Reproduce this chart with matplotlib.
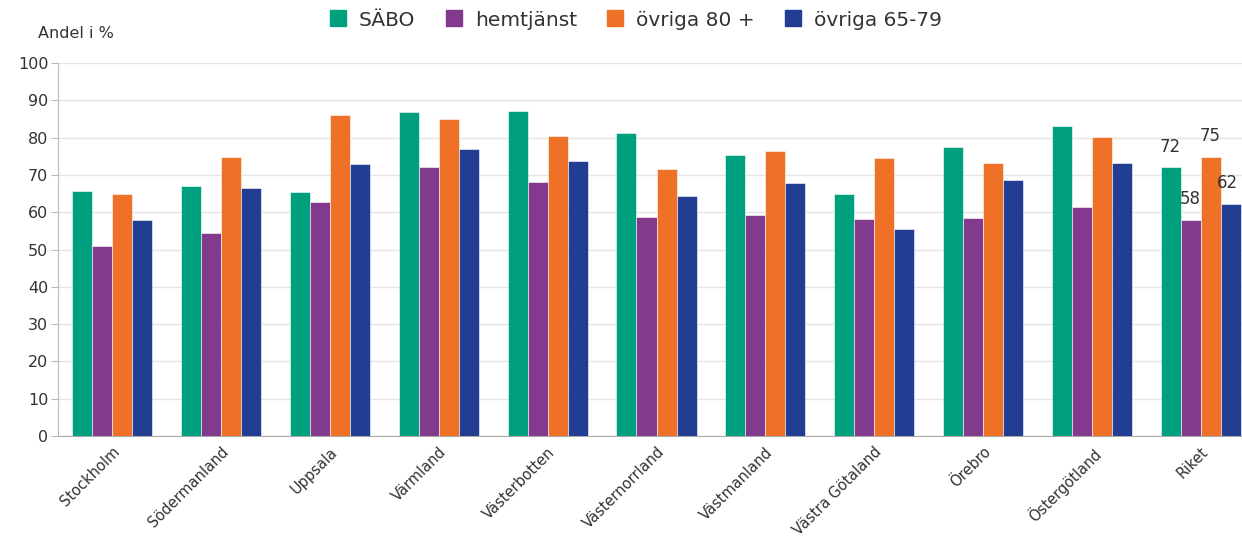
import matplotlib
matplotlib.use('Agg')
import matplotlib.pyplot as plt
from matplotlib.lines import Line2D
import numpy as np

# data
regions = ['Stockholm', 'Södermanland', 'Uppsala', 'Värmland', 'Västerbotten',
           'Västernorrland', 'Västmanland', 'Västra Götaland', 'Örebro',
           'Östergötland', 'Riket']
sabo = [65.7, 67.0, 65.3, 86.8, 87.2, 81.2, 75.3, 65.0, 77.5, 83.2, 72.0]
hemtjanst = [51.0, 54.5, 62.7, 72.0, 68.2, 58.7, 59.2, 58.2, 58.4, 61.3, 58.0]
ovriga80 = [64.9, 74.7, 86.0, 85.0, 80.3, 71.6, 76.3, 74.4, 73.3, 80.1, 74.7]
ovriga65 = [57.9, 66.6, 73.0, 77.0, 73.8, 64.4, 67.8, 55.4, 68.6, 73.3, 62.3]
series_names = ['SÄBO', 'hemtjänst', 'övriga 80 +', 'övriga 65-79']
riket_labels = ['72', '58', '75', '62']
yticks = list(range(0, 101, 10))

colors = ['#00A07F', '#823A8C', '#EE7127', '#213E92']

plt.rcParams['font.family'] = ['DejaVu Sans']

W, H = 1242, 554
fig = plt.figure(figsize=(W / 100, H / 100), dpi=100)
left, right = 58, 58 + 1197
top, bottom = 63, 436
ax = fig.add_axes([left / W, 1 - bottom / H, (right - left) / W, (bottom - top) / H])

x = np.arange(len(regions))
bw = 0.184
all_series = [sabo, hemtjanst, ovriga80, ovriga65]
for i, (vals, col) in enumerate(zip(all_series, colors)):
    ax.bar(x + (i - 1.5) * bw, vals, width=bw, color=col,
           edgecolor='white', linewidth=0.4, zorder=3)

# value labels on Riket
last = len(regions) - 1
for i, (vals, lab) in enumerate(zip(all_series, riket_labels)):
    dx = -0.03 if i == 3 else 0
    ax.text(last + (i - 1.5) * bw + dx, vals[last] + 3.2, lab, ha='center',
            va='bottom', fontsize=12, color='#333333', zorder=4)

ax.set_xlim(-0.5, len(regions) - 0.5)
ax.set_ylim(0, 100)
ax.set_yticks(yticks)
ax.tick_params(axis='y', labelsize=11.5, colors='#333333', length=5,
               color='#BBBBBB', pad=2)
ax.tick_params(axis='x', length=0, pad=6)
ax.set_xticks(x)
ax.set_xticklabels(regions, rotation=45, ha='right', rotation_mode='anchor',
                   fontsize=10.5, color='#333333')
ax.grid(axis='y', color='#E4E4E4', linewidth=1, zorder=0)
for side in ['top', 'right']:
    ax.spines[side].set_visible(False)
ax.spines['left'].set_color('#BBBBBB')
ax.spines['bottom'].set_color('#AAAAAA')

fig.text(38 / W, 1 - 33 / H, 'Andel i %', fontsize=11.5, color='#333333',
         va='center', ha='left')

handles = [Line2D([0], [0], marker='s', linestyle='none', markersize=11,
                  markerfacecolor=c, markeredgecolor=c) for c in colors]
fig.legend(handles, series_names, loc='center', bbox_to_anchor=(630 / W, 1 - 20 / H),
           ncol=4, frameon=False, fontsize=14.5, handletextpad=0.05,
           columnspacing=0.9, labelcolor='#333333')

fig.savefig('out.png', dpi=100)
